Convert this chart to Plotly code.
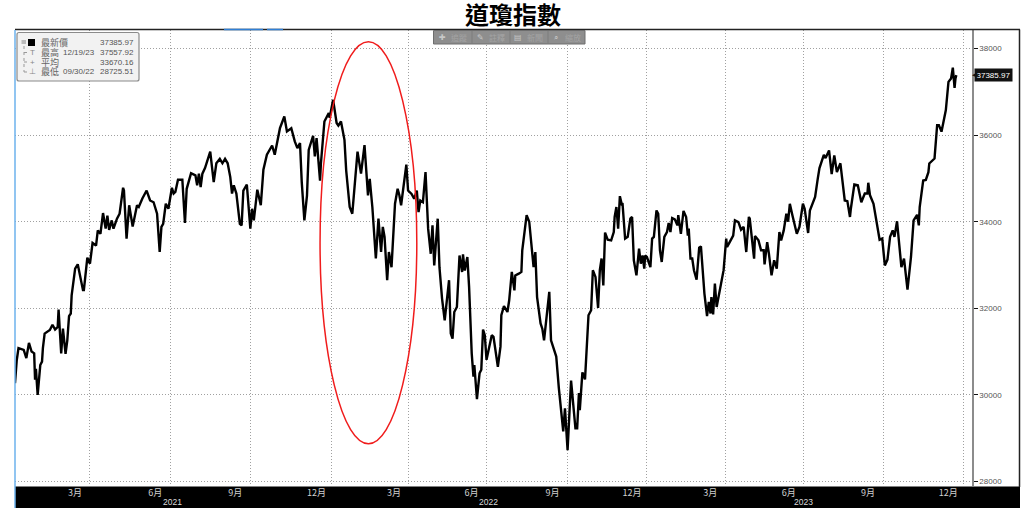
import pandas as pd
import plotly.graph_objects as go

TITLE = "道瓊指數"
START = "2021-01-04"
SERIES_NAME = "最新價"

# Days after START and index level
days = [0,2,4,8,10,13,16,19,22,23,24,26,29,31,32,34,40,43,46,49,50,53,55,58,60,62,64,65,69,72,75,78,79,83,86,89,93,95,98,101,104,106,108,111,113,117,120,124,125,128,131,135,140,142,146,151,155,159,163,166,168,170,173,176,180,182,184,187,192,195,197,202,207,209,211,213,215,218,224,228,231,235,238,241,244,247,249,251,254,258,260,262,266,270,272,274,278,282,285,289,295,298,304,309,312,317,321,324,327,329,332,335,337,342,344,346,350,351,355,360,361,365,369,371,374,378,380,
384,387,390,393,397,401,405,407,410,414,417,420,422,424,427,429,432,436,439,441,443,446,449,451,455,458,461,463,465,468,471,474,477,479,481,485,487,490,493,498,500,502,504,507,510,513,514,516,519,521,523,524,526,527,530,533,535,537,539,541,543,547,549,552,554,557,558,561,565,567,570,573,574,578,581,582,587,590,595,597,599,603,605,607,613,615,617,621,624,629,631,634,638,643,645,647,648,651,654,656,658,661,663,666,669,671,673,675,677,680,684,687,688,690,692,694,696,697,700,703,706,708,710,713,716,718,720,722,723,725,729,731,733,736,738,740,
742,745,748,750,752,754,757,760,761,764,767,770,772,773,775,777,779,782,785,787,789,791,794,796,798,799,801,803,805,809,813,816,817,820,824,826,830,833,836,839,842,843,848,849,853,856,859,860,863,865,868,871,874,877,879,882,885,887,889,892,894,897,900,904,906,910,912,918,921,923,928,930,934,937,940,943,947,949,952,955,958,959,963,967,971,975,978,979,981,985,988,992,995,998,1001,1004,1007,1009,1012,1015,1017,1020,1024,1028,1031,1035,1037,1038,1042,1045,1048,1049,1052,1055,1058,1060,1063,1068,1071,1074,1076,1078,1079,1080]
values = [30270,30800,31080,31050,31040,30850,31200,31000,30960,30350,30600,30000,30690,30770,31080,31415,31500,31620,31510,31570,31970,30960,31530,30950,31260,31820,31880,32300,32915,33015,32720,32420,32420,33170,33030,33510,33450,33800,33720,34200,33840,34140,33810,34030,33840,34070,34185,34785,34720,33610,34380,33890,34380,34340,34530,34720,34490,34450,34185,33300,33880,33950,34415,34300,34785,34650,34690,34970,34970,33970,34760,35120,35070,34840,35110,34800,35110,35240,35620,34915,35350,35450,35350,35450,35350,35030,34650,34840,34650,33950,33915,34720,34860,33840,34300,34030,34740,34380,35200,35547,35760,35547,36160,36430,36085,36160,35855,35700,35815,34915,34030,34600,35660,35985,35510,35930,34950,35350,36315,36510,36400,36815,36280,36220,36315,35890,35180,
34340,34185,34915,35620,35110,35770,34610,34990,34340,33150,34070,33300,33880,33650,32650,33300,32950,34415,34760,34610,34380,34840,35320,34720,34640,34530,34720,34220,34490,34450,35145,33840,33260,33915,32990,34070,32950,32220,31720,32650,31415,31300,31915,32030,33220,32840,33245,32870,33185,32490,31260,30960,30420,30690,29900,30500,30580,31510,31380,30810,31000,31380,31340,30960,30650,31115,31840,32050,31915,32185,32840,32415,32760,32800,32840,33340,34150,34000,32950,33300,32260,31650,31530,31260,32380,31260,31115,30885,30150,29155,29690,28725.51,30330,29230,29230,30040,29650,30520,30360,31115,31840,31955,32880,32725,32010,32880,33150,32530,33750,33585,33570,33760,34110,34340,33840,34590,34415,34430,33610,33650,34070,34110,33110,32760,33380,33030,33220,32915,33220,33185,32950,33610,33650,34260,34180,33340,
33070,33650,33760,33970,33760,34085,34055,33915,34150,33720,34250,34110,33680,33840,33150,33150,32880,32660,33400,33430,32840,32340,31820,32150,31880,32260,31860,32570,32030,32430,32880,33610,33415,33530,33680,34030,33990,33815,33880,33300,34110,34070,33145,33670,33570,33340,33340,33015,33530,33260,32760,33110,32915,33760,33570,33800,34185,34000,34415,34145,33950,33720,33880,34415,34300,33740,34260,34570,34990,35240,35545,35470,35645,35100,35530,35145,35350,34950,34490,34475,34110,34300,34860,34840,34450,34650,34650,34900,34610,34415,34015,33585,33610,32990,33125,33650,33800,33650,34010,33450,32950,33150,32430,33185,34030,34160,33915,34340,34950,34965,35145,35345,35410,35460,36230,36230,36080,36580,37230,37310,37557.92,37090,37300,37385.97]

# Axis
y_ticks = [28000, 30000, 32000, 34000, 36000, 38000]
quarter_days = [86,178,270,363,452,541,634,725,815,905,996,1088]
month_labels = ["3月","6月","9月","12月","3月","6月","9月","12月","3月","6月","9月","12月"]
year_labels = ["2021","2022","2023"]
year_days = [181,543,905]

# Legend box
legend_names = ["最新價","最高","平均","最低"]
legend_dates = ["","12/19/23","","09/30/22"]
legend_values = ["37385.97","37557.92","33670.16","28725.51"]
tools = ["追蹤","註釋","新聞","縮放"]
tool_icons = ["✚","✎","▤","⌕"]

start = pd.Timestamp(START)
def d(n):
    return start + pd.Timedelta(days=n)

L, R, T, B = 15, 972, 30, 486
def fx(p): return (p - L) / (R - L)
def fy(p): return (B - p) / (B - T)
CJK = "Noto Sans CJK TC"
SANS = "Liberation Sans"
GRID_DASH = "1px,2px"

fig = go.Figure()
fig.add_trace(go.Scatter(x=[d(n) for n in days], y=values, mode="lines", name=SERIES_NAME,
                         line=dict(color="#000000", width=2.4), hoverinfo="x+y", showlegend=False))

shapes = []
def rect(x0, y0, x1, y1, fill, line=None, lw=0, layer="above"):
    shapes.append(dict(type="rect", xref="paper", yref="paper", x0=fx(x0), x1=fx(x1), y0=fy(y0), y1=fy(y1),
                       fillcolor=fill, line=dict(color=line or fill, width=lw), layer=layer))
def seg(x0, y0, x1, y1, color, w=1, dash="solid"):
    shapes.append(dict(type="line", xref="paper", yref="paper", x0=fx(x0), x1=fx(x1), y0=fy(y0), y1=fy(y1),
                       line=dict(color=color, width=w, dash=dash), layer="above"))

# Bottom band and frame
rect(15, 486.5, 1020, 508, "#000000", layer="below")
seg(15, 29.5, 1020, 29.5, "#222222", 1.5)
seg(1019.5, 29.5, 1019.5, 487, "#222222", 1.5)
seg(15, 30, 15, 508, "#6CB2EC", 1.5)
seg(224, 29.5, 263, 29.5, "#2F7FD6", 1.5)
seg(267, 29.5, 283, 29.5, "#2F7FD6", 1.5)

# Red ellipse
shapes.append(dict(type="circle", xref="x", yref="y", x0=d(350), x1=d(461), y0=28872, y1=38157,
                   line=dict(color="#F01C1C", width=1.5), layer="above"))

# Legend box
a, b, c, e = 17, 32.5, 139, 81
r = 2
path = (f"M {fx(a+r)} {fy(b)} L {fx(c-r)} {fy(b)} Q {fx(c)} {fy(b)} {fx(c)} {fy(b+r)} L {fx(c)} {fy(e-r)} "
        f"Q {fx(c)} {fy(e)} {fx(c-r)} {fy(e)} L {fx(a+r)} {fy(e)} Q {fx(a)} {fy(e)} {fx(a)} {fy(e-r)} "
        f"L {fx(a)} {fy(b+r)} Q {fx(a)} {fy(b)} {fx(a+r)} {fy(b)} Z")
shapes.append(dict(type="path", xref="paper", yref="paper", path=path, fillcolor="#F2F2F2",
                   line=dict(color="#8A8A8A", width=1.2), layer="above"))
rect(28, 39, 35, 46, "#000000")
seg(24, 46, 24, 72, "#999999", 1, "dot")
for yy in (52.5, 62, 72):
    seg(24, yy, 27, yy, "#999999", 1)
rect(21.5, 40, 26, 44, "#BBBBBB")

# Toolbar
rect(433.5, 30.5, 585, 44, "#8E8E8E", "#6E6E6E", 1)
for xx in (472, 510, 548):
    seg(xx, 31, xx, 44, "#7C7C7C", 1)

ann = []
def text(x, y, s, size=8, color="#555555", font=SANS, anchor="left", **kw):
    ann.append(dict(xref="paper", yref="paper", x=fx(x), y=fy(y), text=s, showarrow=False, xanchor=anchor,
                    yanchor="middle", font=dict(size=size, color=color, family=font), **kw))

text(513, 13, f"<b>{TITLE}</b>", size=24, color="#000000", font=CJK, anchor="center")
row_y = [42.5, 52.5, 62, 72]
for yy, nm, dt, val in zip(row_y, legend_names, legend_dates, legend_values):
    text(39, yy, nm, size=9, color="#666666", font=CJK)
    if dt:
        text(97, yy, dt, size=8, anchor="right")
    text(135.5, yy, val, size=8, anchor="right")
text(32, 52.5, "T", size=8, color="#888888", anchor="center")
text(32, 62, "+", size=8, color="#888888", anchor="center")
text(32, 72, "⊥", size=8, color="#888888", anchor="center")

for ix, tx, icon, label in zip((442, 480, 518, 556), (459, 497, 535, 573), tool_icons, tools):
    text(ix, 37, icon, size=8, color="#C8C8C8", font="DejaVu Sans", anchor="center")
    text(tx, 37, label, size=8, color="#A4A4A4", font=CJK, anchor="center")

for dn, yl in zip(year_days, year_labels):
    ann.append(dict(xref="x", yref="paper", x=d(dn), y=fy(502.5), text=yl, showarrow=False, xanchor="center",
                    yanchor="middle", font=dict(size=8.5, color="#DADADA", family=SANS)))

# Last-value tag
ann.append(dict(xref="paper", yref="y", x=fx(993.5), y=values[-1], text=f"{values[-1]:.2f}", showarrow=False,
                xanchor="center", yanchor="middle", bgcolor="#111111", borderpad=1.5,
                font=dict(size=8, color="#FFFFFF", family=SANS)))
ann.append(dict(xref="paper", yref="y", x=fx(975), y=values[-1], text="◀", showarrow=False,
                xanchor="center", yanchor="middle", font=dict(size=7, color="#111111", family="DejaVu Sans")))

fig.update_layout(
    width=1024, height=508, autosize=False,
    margin=dict(l=L, r=1024 - R, t=T, b=508 - B, autoexpand=False),
    paper_bgcolor="#FFFFFF", plot_bgcolor="#FFFFFF",
    shapes=shapes, annotations=ann, showlegend=False,
    xaxis=dict(type="date", range=[d(0), d(1098)], tickmode="array",
               tickvals=[d(n) for n in quarter_days], ticktext=month_labels,
               showgrid=True, griddash=GRID_DASH, gridcolor="#A0A0A0", gridwidth=1,
               ticks="", showline=False, zeroline=False, ticklabelshift=-15, ticklabelstandoff=0,
               tickangle=0, tickfont=dict(size=9, color="#D0D0D0", family=CJK)),
    yaxis=dict(side="right", range=[27896, 38428], tickmode="array", tickvals=y_ticks,
               ticktext=[str(v) for v in y_ticks],
               showgrid=True, griddash=GRID_DASH, gridcolor="#A0A0A0", gridwidth=1,
               ticks="outside", ticklen=4, tickcolor="#111111", tickwidth=1,
               showline=True, linecolor="#8C8C8C", linewidth=1.5, zeroline=False,
               tickfont=dict(size=8, color="#555555", family=SANS)),
)
fig.write_html("out.html", config={"displayModeBar": False},
               post_script="document.body.style.margin='0';document.body.style.overflow='hidden';")
